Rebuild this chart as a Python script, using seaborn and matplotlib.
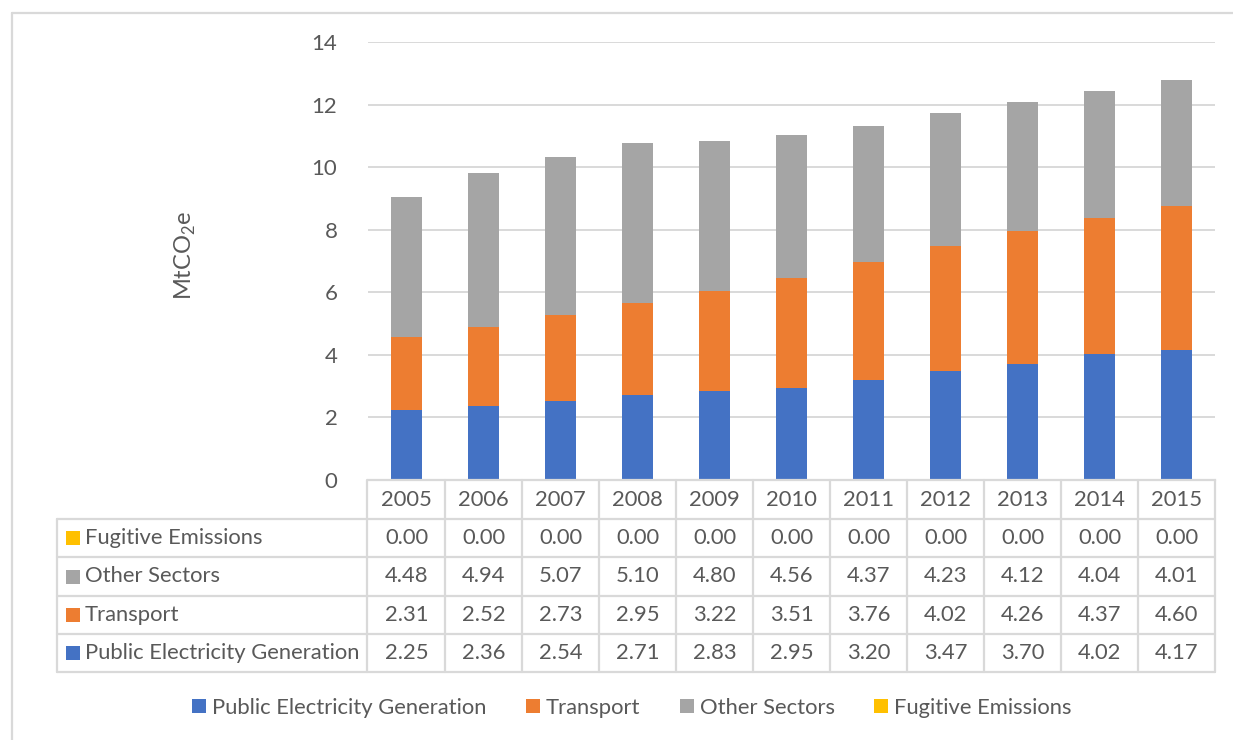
import matplotlib
matplotlib.use("Agg")
import numpy as np
import pandas as pd
import matplotlib.pyplot as plt
from matplotlib.patches import Rectangle, Patch
from matplotlib.lines import Line2D
from matplotlib.transforms import blended_transform_factory
import seaborn as sns

# Emissions by sector (MtCO2e)
years = ["2005", "2006", "2007", "2008", "2009", "2010",
         "2011", "2012", "2013", "2014", "2015"]
public_electricity = [2.25, 2.36, 2.54, 2.71, 2.83, 2.95, 3.20, 3.47, 3.70, 4.02, 4.17]
transport = [2.31, 2.52, 2.73, 2.95, 3.22, 3.51, 3.76, 4.02, 4.26, 4.37, 4.60]
other_sectors = [4.48, 4.94, 5.07, 5.10, 4.80, 4.56, 4.37, 4.23, 4.12, 4.04, 4.01]
fugitive = [0.00, 0.00, 0.00, 0.00, 0.00, 0.00, 0.00, 0.00, 0.00, 0.00, 0.00]

series_names = ["Public Electricity Generation", "Transport",
                "Other Sectors", "Fugitive Emissions"]
series_values = [public_electricity, transport, other_sectors, fugitive]
series_colors = ["#4472C4", "#ED7D31", "#A5A5A5", "#FFC000"]
y_ticks = [0, 2, 4, 6, 8, 10, 12, 14]

TEXT = "#595959"
GRID = "#D9D9D9"
FS = 15.8

sns.set_theme(style="white")
plt.rcParams["font.family"] = ["Lato", "DejaVu Sans"]

W, H = 1233, 740
fig = plt.figure(figsize=(W / 100, H / 100), dpi=100)
fig.patch.set_facecolor("white")

def fx(px):
    return px / W

def fy(py):
    return 1 - py / H

ax_left, ax_right, ax_top, ax_bottom = 368, 1215, 42, 480
ax = fig.add_axes([fx(ax_left), fy(ax_bottom), fx(ax_right - ax_left),
                   (ax_bottom - ax_top) / H])

# Stacked bars: draw cumulative totals from the top layer downwards
df = pd.DataFrame({"year": years})
for name, vals in zip(series_names, series_values):
    df[name] = vals
cum = df[series_names].cumsum(axis=1)
for name, color in reversed(list(zip(series_names, series_colors))):
    sns.barplot(x=df["year"], y=cum[name], color=color, saturation=1,
                width=0.41, errorbar=None, linewidth=0, ax=ax)

ax.set_ylim(0, 14)
ax.set_xlim(-0.5, len(years) - 0.5)
ax.set_yticks(y_ticks)
ax.set_yticklabels([str(t) for t in y_ticks])
ax.yaxis.grid(True, color=GRID, linewidth=1.4)
ax.set_axisbelow(True)
for side in ["top", "left", "right"]:
    ax.spines[side].set_visible(False)
ax.spines["bottom"].set_color(GRID)
ax.spines["bottom"].set_linewidth(1.6)
ax.tick_params(axis="y", length=0, pad=22, labelsize=16, labelcolor=TEXT)
ax.tick_params(axis="x", length=0, labelbottom=False)
ax.set_xlabel("")
ax.set_ylabel("")

fig.text(fx(185), fy(255), r"MtCO$_\mathregular{2}$e", rotation=90,
         ha="center", va="center", fontsize=17, color=TEXT)

# Data table below the axis
tx = blended_transform_factory(ax.transData, fig.transFigure)
row_edges = [480, 519, 557, 596, 634, 672]
table_left = 57

def line(xs, ys, transform):
    fig.add_artist(Line2D(xs, ys, transform=transform, color=GRID, linewidth=1.6))

for py in row_edges[1:]:
    line([fx(table_left), fx(ax_right)], [fy(py), fy(py)], fig.transFigure)
line([fx(table_left)] * 2, [fy(row_edges[1]), fy(row_edges[-1])], fig.transFigure)
line([fx(ax_left - 1)] * 2, [fy(row_edges[0]), fy(row_edges[-1])], fig.transFigure)
for i in range(len(years)):
    xb = i + 0.5
    line([xb, xb], [fy(row_edges[0]), fy(row_edges[-1])], tx)

# header row with years
hy = (row_edges[0] + row_edges[1]) / 2
for i, yr in enumerate(years):
    fig.text(i, fy(hy), yr, transform=tx, ha="center", va="center",
             fontsize=FS, color=TEXT)

# value rows, top to bottom in reverse stacking order
table_rows = list(zip(series_names, series_values, series_colors))[::-1]
for r, (name, vals, color) in enumerate(table_rows):
    cy = (row_edges[r + 1] + row_edges[r + 2]) / 2
    fig.add_artist(Rectangle((fx(66), fy(cy + 7)), 14 / W, 14 / H,
                             transform=fig.transFigure, color=color, linewidth=0))
    fig.text(fx(85), fy(cy), name, ha="left", va="center",
             fontsize=FS, color=TEXT)
    for i, v in enumerate(vals):
        fig.text(i, fy(cy), f"{v:.2f}", transform=tx, ha="center",
                 va="center", fontsize=FS, color=TEXT)

# Legend
handles = [Patch(facecolor=c, edgecolor="none", label=n)
           for n, c in zip(series_names, series_colors)]
fig.legend(handles=handles, loc="center", bbox_to_anchor=(fx(632), fy(708)),
           ncol=4, frameon=False, fontsize=FS, labelcolor=TEXT,
           handlelength=0.63, handleheight=0.63, handletextpad=0.28,
           columnspacing=1.8)

# Chart area border
line([fx(11.5), fx(11.5)], [0, fy(12.5)], fig.transFigure)
line([fx(11.5), 1], [fy(12.5), fy(12.5)], fig.transFigure)

fig.savefig("out.png", dpi=100, facecolor="white")
